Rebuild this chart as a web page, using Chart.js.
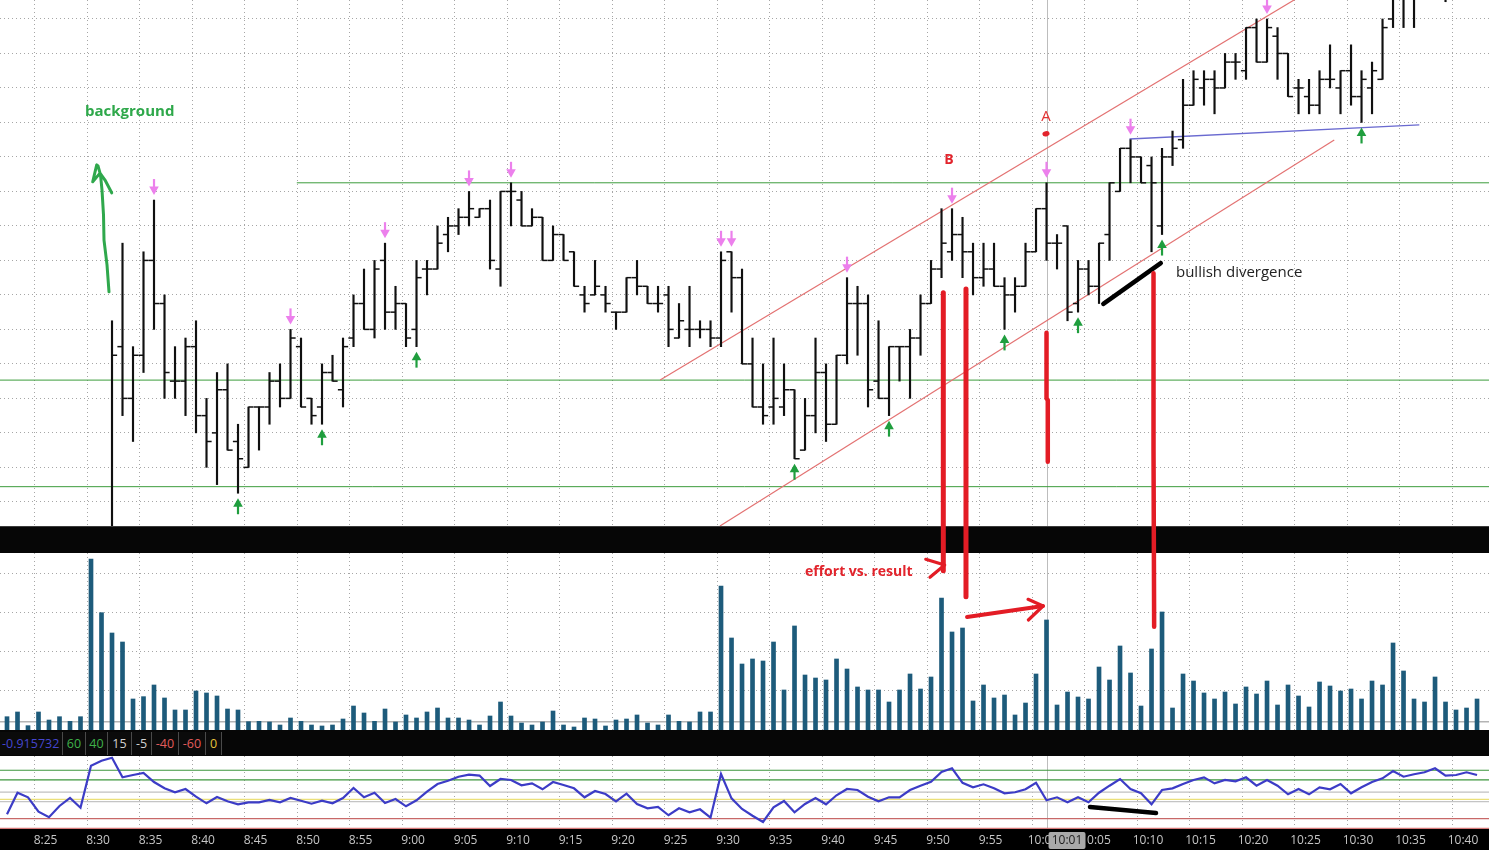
<!DOCTYPE html>
<html><head><meta charset="utf-8">
<script src="https://cdn.jsdelivr.net/npm/chart.js@4.4.1/dist/chart.umd.min.js"></script>
<style>
html,body{margin:0;padding:0;background:#000;width:1489px;height:850px;overflow:hidden;font-family:"Open Sans",sans-serif;}
.pane{position:absolute;left:0;width:1489px;background:#fff;}
#pricePane{top:0;height:526px;}
#band1{position:absolute;left:0;top:526px;width:1489px;height:27px;background:#060606;border-top:1px solid #3c3c3c;box-sizing:border-box;}
#volPane{top:553px;height:177px;}
#band2{position:absolute;left:0;top:730px;width:1489px;height:26px;background:#060606;}
#oscPane{top:756px;height:94px;background:#000;}
#overlay{position:absolute;left:0;top:0;pointer-events:none;z-index:10;}
.lbl{position:absolute;top:2px;height:23px;line-height:23px;font-size:12.5px;text-align:center;border-right:1px solid #4a4a4a;box-sizing:border-box;background:#0b0b0b;}
canvas{display:block;}
</style>
</head>
<body>
<div class="pane" id="pricePane"><canvas id="priceCanvas" width="1489" height="526"></canvas></div>
<div id="band1"></div>
<div class="pane" id="volPane"><canvas id="volCanvas" width="1489" height="177"></canvas></div>
<div id="band2">
  <span class="lbl" style="left:0;width:63px;color:#4646d0;text-align:left;padding-left:2px;">-0.915732</span>
  <span class="lbl" style="left:63px;width:23px;color:#3fb24a;">60</span>
  <span class="lbl" style="left:86px;width:22px;color:#3fb24a;">40</span>
  <span class="lbl" style="left:108px;width:24px;color:#d2d2d2;">15</span>
  <span class="lbl" style="left:132px;width:20px;color:#d2d2d2;">-5</span>
  <span class="lbl" style="left:152px;width:27px;color:#e25c5c;">-40</span>
  <span class="lbl" style="left:179px;width:27px;color:#e25c5c;">-60</span>
  <span class="lbl" style="left:206px;width:16px;color:#e4c23c;">0</span>
</div>
<div class="pane" id="oscPane"><canvas id="oscCanvas" width="1489" height="94"></canvas></div>
<canvas id="overlay" width="1489" height="850"></canvas>
<script>
// ---------------- DATA ----------------
// bars are 1-minute, first bar 8:22; bar index is minutes after 8:30
const FIRST_BAR = -8;
const timeLabels = ['8:25','8:30','8:35','8:40','8:45','8:50','8:55','9:00','9:05','9:10','9:15','9:20','9:25','9:30','9:35','9:40','9:45','9:50','9:55','10:00','10:05','10:10','10:15','10:20','10:25','10:30','10:35','10:40'];
const N = null;
const opens = [N,N,N,N,N,N,N,N,N,N,
2059,2064.5,2063,2064.25,2067,2065.75,2063.5,2063.5,2064.5,2062.5,2062,2063.25,2061.75,2061,2062.75,2062.75,2063.5,2063,2064.5,2063,
2062.75,2063.75,2063.25,2064.75,2065.75,2065,2067,2065.5,2065.75,2065,2066.75,2066.75,2067.75,2068,2068.25,2068.25,2068.5,2066.75,2069,2068.75,
2068,2068.25,2067,2067.75,2067.25,2066,2066,2066,2065.5,2065.5,2066.5,2066.25,2065.75,2066,2064.75,2065,2065,2065,2064.75,2067.25,
2066.5,2064,2062.75,2062.75,2062.75,2063.25,2061.5,2062.5,2063.75,2062.25,2064.25,2065.75,2065.75,2063.5,2063,2064.5,2064.5,2064.75,2065.75,2066.75,
2067.25,2067.75,2067.25,2066.5,2066.75,2066.25,2066,2066.25,2067.25,2068.5,2067.5,2068,2065.75,2066.75,2066.25,2067.75,2069,2070.25,2070,2069.75,
2068,2070,2070.5,2071.5,2072,2072.25,2072,2072.75,2072.5,2073.75,2072.75,2073.5,2073,2072,2071.75,2071.5,2072.25,2072,2072.5,2071.75,
2072,2072.25,2074,2074.75,2074.75,2074.75,2075.25,2075,2074.75,2075.25,2075.5];
const highs = [N,N,N,N,N,N,N,N,N,N,
2065.25,2067.5,2064.5,2067.25,2068.75,2066,2064.5,2064.75,2065.25,2063,2063.75,2064,2062.25,2062.75,2062.75,2063.75,2064,2065,2064.75,2063,
2064,2064.25,2064.75,2066,2066.75,2067,2067.5,2066.25,2065.75,2067,2067,2068,2068.25,2068.5,2069,2068.5,2068.75,2069,2069.25,2069,
2068.5,2068.25,2068,2067.75,2067.25,2066.25,2067,2066.25,2065.5,2066.5,2067,2066.25,2066.25,2066.25,2065.75,2066.25,2065.25,2065.25,2067.25,2067.25,
2066.75,2064.75,2064,2064.75,2064,2063.25,2063,2064.75,2064,2064.25,2066.5,2066.25,2066,2065.25,2064.5,2064.5,2065,2066,2067,2068.5,
2068.5,2068.25,2067.5,2067.5,2067.5,2066.5,2066.5,2067.5,2068.5,2069.25,2067.75,2068,2067,2067,2067.5,2069.25,2070.25,2070.5,2070,2070,
2070.25,2070.75,2072.25,2072.5,2072.5,2072.5,2073,2073,2073.75,2074,2074,2073.75,2073,2072.25,2072.25,2072.5,2073.25,2072.5,2073.25,2072.5,
2072.75,2074,2075,2075.25,2075,2075.5,2075.75,2075.25,2075.5,2075.75,2075.75];
const lows = [N,N,N,N,N,N,N,N,N,N,
2058.5,2062.5,2061.75,2063.75,2065,2063,2063,2062.5,2062,2061,2060.5,2061.5,2060.25,2061,2061.5,2062.25,2062.75,2063,2062.75,2062.25,
2062.25,2063.5,2062.75,2064.5,2065,2064.75,2065,2065,2064.5,2064.5,2066,2066.75,2067.25,2067.75,2068,2068.25,2066.75,2066.25,2068,2068,
2068,2067,2067,2067,2066.25,2065.5,2066,2065.5,2065,2065.5,2066,2065.75,2065.5,2064.5,2064.75,2064.5,2064.75,2064.5,2064.5,2065.5,
2064,2062.75,2062.25,2062.25,2062.5,2061.25,2061.5,2062,2061.75,2062.25,2064,2064.25,2062.75,2063,2062.5,2063.5,2063,2064.25,2065.75,2066.5,
2067,2066.5,2066,2066.25,2066.25,2065,2065.5,2066.25,2067.25,2067,2066.75,2065.25,2065.5,2066,2065.75,2067,2069,2069.25,2069.25,2067.25,
2067.75,2069.75,2070.25,2071.5,2071.5,2071.25,2072,2072.25,2072.25,2072.75,2072.75,2072.25,2071.75,2071.25,2071.25,2071.25,2072,2071.25,2071.5,2071,
2071.25,2072.25,2073.75,2073.75,2073.75,2074.75,2074.75,2074.5,2074.75,2075,2075];
const closes = [N,N,N,N,N,N,N,N,N,N,
2064.25,2063,2064.25,2067,2065.75,2063.75,2063.5,2064.5,2062.5,2061.75,2063.25,2061.5,2061.25,2062.75,2062.75,2063.5,2063,2064.75,2062.75,2062.5,
2063.75,2063.5,2064.5,2065.75,2065,2066.75,2065.5,2065.75,2064.75,2066.5,2066.75,2067.5,2068,2068.25,2068.5,2068.5,2067,2069,2069,2068,
2068.25,2067,2067.75,2067,2066.25,2065.75,2066.25,2065.75,2065.5,2066.5,2066.25,2065.75,2065.75,2065,2065.25,2065,2065,2064.75,2067,2066.5,
2064,2062.75,2062.5,2063,2063.25,2061.25,2062.5,2063.75,2062.25,2064.25,2065.75,2065.75,2063.25,2063,2064.5,2064.5,2064.75,2065.75,2066.75,2067.5,
2067.75,2067.25,2066.5,2066.75,2066.25,2066,2066.25,2067.25,2068.5,2067.5,2067.5,2065.5,2066.75,2066.25,2067.5,2069.25,2070.25,2070,2069.25,2069.25,
2070,2070.25,2071.5,2072.25,2072.25,2072,2072.75,2072.75,2073.75,2072.75,2073.75,2073,2071.75,2072,2071.5,2072.25,2072.25,2072.5,2071.75,2072.25,
2072.5,2073.75,2074.75,2074.75,2074.75,2075.25,2075,2074.75,2075.25,2075.5,2075.25];
const volumes = [341,462,111,462,256,341,222,341,
4385,3008,2487,2256,795,855,1154,821,513,513,1000,949,872,538,513,214,222,205,128,308,222,128,
103,128,282,615,436,222,538,205,385,308,462,564,308,308,256,128,359,718,359,179,
128,205,487,128,77,308,282,103,256,282,385,179,128,385,222,205,462,462,3692,2359,
1692,1821,1769,2256,1026,2667,1410,1333,1282,1821,1564,1103,1026,1026,718,1026,1436,1051,1359,3385,
2513,2615,744,1154,821,897,385,692,1436,2821,641,974,846,795,1615,1282,2154,1462,615,2077,
3026,564,1436,1256,949,795,974,667,1103,923,1256,641,1154,872,590,1231,1128,1000,1051,795,
1256,1154,2231,1513,795,718,1359,718,513,564,795];
const oscValues = [-31,13.6,4,-25.6,-37,-13.8,2.7,-17.4,
69.4,79.8,86,45.4,50.2,54.3,35.7,22.7,14.5,21.3,5.4,-8.3,4.8,-4.1,-10.3,-6.2,-6.2,-1.4,-6.2,2.7,-2.9,-9.1,
-2.9,-8.3,2.7,23.3,4.1,13.6,-7.6,0.6,-14.5,-2.1,15.7,31.6,38.4,46.7,50.8,49,27.5,42,39.9,28.9,
33,20.7,35.7,29.5,22.7,4.1,17.1,11,-4.1,11.6,-9.7,-18.6,-15.9,-33,-18.6,-26.9,-20.7,-38,52.3,2,
-20,-33.9,-46.9,-16.5,-3.5,-26.9,-9.7,2.7,-10.3,8.3,21.3,19.2,5.4,-4.1,4.1,4.1,19.2,28.1,36.4,56.4,
64,34,24.8,31,22.7,12.4,14.5,20.7,34.3,-2.1,4.1,-6.2,4.1,-6.2,13.6,28.1,41.9,21.3,12.4,-10.3,
19.2,22.7,31.6,39.9,45.4,33,39.9,37.2,45.4,28.1,39.9,28.1,10.3,21.3,10.3,24.8,20.7,31.6,12.4,24.8,
35.7,43.4,58.5,46.7,51.7,55.8,64,48.8,50.2,55.8,50.2];
const oscLevels = [60, 40, 15, 0, -5, -40, -60];
const volAvgLevel = 210;
const swingHighBars = [6,19,28,36,40,60,61,72,82,91,99,112];
const swingLowBars = [14,22,31,67,76,87,94,102,121];
const cursorBar = 91;

// ---------------- HELPERS ----------------
const X_MIN = -8.667, X_MAX = 133.14;
const GRID_SHIFT = -0.38;
const toMin = s => { const p = s.split(':').map(Number); return p[0]*60 + p[1]; };
const tickBars = timeLabels.map(s => toMin(s) - 510);
const barX = k => k + FIRST_BAR;
const fmtTime = b => { const m = 510 + b; return Math.floor(m/60) + ':' + String(m%60).padStart(2,'0'); };
const FONT = '"Open Sans", "Noto Sans", sans-serif';

function xAxis(showLabels, fixedHeight) {
  return {
    type: 'linear', min: X_MIN, max: X_MAX, offset: false, display: true,
    afterBuildTicks: s => { s.ticks = tickBars.map(v => ({ value: v + GRID_SHIFT })); },
    afterFit: s => { s.height = fixedHeight; s.paddingLeft = 0; s.paddingRight = 0; },
    grid: { color: '#a6a6a6', lineWidth: 1, drawTicks: false, offset: false },
    border: { display: false, dash: [1, 3] },
    ticks: {
      display: showLabels, autoSkip: false, maxRotation: 0, minRotation: 0,
      labelOffset: 11, padding: 4, color: '#c6c6c6',
      font: { family: FONT, size: 12 },
      callback: (v, i) => timeLabels[i]
    }
  };
}
function yAxis(min, max, tickVals, showGrid) {
  return {
    type: 'linear', min: min, max: max, display: showGrid, position: 'left',
    afterBuildTicks: s => { s.ticks = tickVals.map(v => ({ value: v })); },
    afterFit: s => { s.width = 0; s.paddingTop = 0; s.paddingBottom = 0; },
    grid: { color: '#a6a6a6', lineWidth: 1, drawTicks: false },
    border: { display: false, dash: [1, 3] },
    ticks: { display: false }
  };
}
function seg(points, color, width, order) {
  return { type: 'line', data: points.map(p => ({ x: p[0], y: p[1] })), borderColor: color,
    borderWidth: width, pointRadius: 0, fill: false, tension: 0, order: order };
}
function cursorLine(chart) {
  const ctx = chart.ctx, a = chart.chartArea, x = chart.scales.x.getPixelForValue(cursorBar);
  ctx.save(); ctx.strokeStyle = '#bdbdbd'; ctx.lineWidth = 1;
  ctx.beginPath(); ctx.moveTo(Math.round(x) + 0.5, a.top); ctx.lineTo(Math.round(x) + 0.5, a.bottom); ctx.stroke();
  ctx.restore();
}
function poly(ctx, pts, color, width) {
  ctx.save(); ctx.strokeStyle = color; ctx.lineWidth = width; ctx.lineCap = 'round'; ctx.lineJoin = 'round';
  ctx.beginPath(); pts.forEach((p, i) => i ? ctx.lineTo(p[0], p[1]) : ctx.moveTo(p[0], p[1])); ctx.stroke(); ctx.restore();
}
function arrow(ctx, x, tip, dir, color) {
  // dir = +1 pointing down, -1 pointing up
  ctx.save(); ctx.fillStyle = color; ctx.strokeStyle = color; ctx.lineWidth = 2.2;
  ctx.beginPath(); ctx.moveTo(x, tip - dir * 16); ctx.lineTo(x, tip - dir * 6); ctx.stroke();
  ctx.beginPath(); ctx.moveTo(x - 4.8, tip - dir * 8.5); ctx.lineTo(x + 4.8, tip - dir * 8.5); ctx.lineTo(x, tip); ctx.closePath(); ctx.fill();
  ctx.restore();
}

const common = {
  responsive: false, animation: false, events: [],
  layout: { padding: 0, autoPadding: false },
  plugins: { legend: { display: false }, tooltip: { enabled: false } }
};

// ---------------- PRICE ----------------
const hlData = [], openData = [], closeData = [];
highs.forEach((h, k) => {
  if (h == null) return;
  hlData.push({ x: barX(k), y: [lows[k], h] });
  openData.push({ x: barX(k) - 0.24, y: opens[k] });
  closeData.push({ x: barX(k) + 0.24, y: closes[k] });
});
const handArrow = [[1.714,2066.09],[1.524,2066.87],[1.238,2067.59],[1.19,2068.32],[1.048,2069.04],[0.905,2069.48],[0.667,2069.74],[0.543,2069.77],[0.162,2069.28],[0.857,2069.53],[1.333,2069.33],[1.971,2068.96]];

const pricePlugin = {
  id: 'priceDecor',
  beforeDatasetsDraw(chart) { cursorLine(chart); },
  afterDatasetsDraw(chart) {
    const ctx = chart.ctx, X = v => chart.scales.x.getPixelForValue(v), Y = v => chart.scales.y.getPixelForValue(v);
    swingHighBars.forEach(b => arrow(ctx, X(b), Y(highs[b - FIRST_BAR]) - 5, 1, '#ec80ec'));
    swingLowBars.forEach(b => arrow(ctx, X(b), Y(lows[b - FIRST_BAR]) + 5, -1, '#1f9e3e'));
    poly(ctx, handArrow.map(p => [X(p[0]), Y(p[1])]), '#2fa84c', 3);
    poly(ctx, [[X(96.41), Y(2065.74)], [X(101.88), Y(2066.92)]], '#000', 4.5);
    ctx.save();
    ctx.textBaseline = 'middle';
    ctx.fillStyle = '#2ea84a'; ctx.font = 'bold 15px ' + FONT; ctx.textAlign = 'left';
    ctx.fillText('background', X(-0.57), Y(2071.30));
    ctx.fillStyle = '#222'; ctx.font = '15px ' + FONT;
    ctx.fillText('bullish divergence', X(103.33), Y(2066.64));
    ctx.textAlign = 'center'; ctx.fillStyle = '#e2242c'; ctx.font = 'bold 14px ' + FONT;
    ctx.fillText('B', X(81.71), Y(2069.91));
    ctx.font = '15px ' + FONT; ctx.fillStyle = '#e23434';
    ctx.fillText('A', X(90.95), Y(2071.16));
    ctx.beginPath(); ctx.fillStyle = '#e2242c';
    ctx.ellipse(X(90.95), Y(2070.67), 3.6, 2.6, -0.2, 0, Math.PI * 2); ctx.fill();
    ctx.restore();
  }
};

const priceChart = new Chart(document.getElementById('priceCanvas'), {
  type: 'bar',
  data: { datasets: [
    { type: 'bar', data: hlData, backgroundColor: '#101010', barThickness: 1.5, borderWidth: 0, order: 1 },
    { type: 'scatter', data: openData, pointStyle: 'line', pointRadius: 2.6, borderColor: '#101010', borderWidth: 1.5, order: 1 },
    { type: 'scatter', data: closeData, pointStyle: 'line', pointRadius: 2.6, borderColor: '#101010', borderWidth: 1.5, order: 1 },
    seg([[X_MIN, 2063.53], [X_MAX, 2063.53]], '#3c9c3c', 1, 10),
    seg([[X_MIN, 2060.44], [X_MAX, 2060.44]], '#3c9c3c', 1, 10),
    seg([[19.6, 2069.25], [X_MAX, 2069.25]], '#3c9c3c', 1, 10),
    seg([[54.2, 2063.53], [116, 2074.81]], '#e37272', 1.2, 9),
    seg([[59.9, 2059.30], [118.4, 2070.49]], '#e37272', 1.2, 9),
    seg([[98.9, 2070.52], [126.5, 2070.93]], '#6a6ad0', 1.3, 9)
  ]},
  options: Object.assign({}, common, {
    scales: {
      x: xAxis(false, 0),
      y: yAxis(2059.30, 2074.55, [2060,2061,2062,2063,2064,2065,2066,2067,2068,2069,2070,2071,2072,2073,2074], true)
    }
  }),
  plugins: [pricePlugin]
});

// ---------------- VOLUME ----------------
const volChart = new Chart(document.getElementById('volCanvas'), {
  type: 'bar',
  data: { datasets: [
    { type: 'bar', data: volumes.map((v, k) => ({ x: barX(k), y: v })), backgroundColor: '#1d5b7b', barThickness: 4, borderWidth: 0, order: 1 },
    seg([[X_MIN, volAvgLevel], [X_MAX, volAvgLevel]], '#b4b4b4', 1.5, 10)
  ]},
  options: Object.assign({}, common, {
    scales: { x: xAxis(false, 0), y: yAxis(0, 4538, [1000, 2000, 3000, 4000], true) }
  }),
  plugins: [{ id: 'volDecor', beforeDatasetsDraw(chart) { cursorLine(chart); } }]
});

// ---------------- OSCILLATOR ----------------
const levelColors = { '60': '#3c963c', '40': '#3c963c', '15': '#c0c0c0', '0': '#ebe07a', '-5': '#c4c4c4', '-40': '#c86868', '-60': '#d67a7a' };
const oscPlugin = {
  id: 'oscDecor',
  beforeDraw(chart) {
    const ctx = chart.ctx, a = chart.chartArea;
    ctx.save(); ctx.fillStyle = '#000'; ctx.fillRect(0, 0, chart.width, chart.height);
    ctx.fillStyle = '#fff'; ctx.fillRect(a.left, a.top, a.right - a.left, a.bottom - a.top); ctx.restore();
  },
  beforeDatasetsDraw(chart) { cursorLine(chart); },
  afterDatasetsDraw(chart) {
    const ctx = chart.ctx, X = v => chart.scales.x.getPixelForValue(v), Y = v => chart.scales.y.getPixelForValue(v);
    poly(ctx, [[X(95.14), Y(-15.9)], [X(101.43), Y(-28.3)]], '#000', 4.5);
  },
  afterDraw(chart) {
    const ctx = chart.ctx, a = chart.chartArea, x = chart.scales.x.getPixelForValue(cursorBar);
    ctx.save();
    ctx.fillStyle = '#a9a9a9';
    ctx.beginPath(); ctx.roundRect(x + 2, a.bottom + 3, 37, 17, 2); ctx.fill();
    ctx.fillStyle = '#1c1c1c'; ctx.font = '12px ' + FONT; ctx.textAlign = 'center'; ctx.textBaseline = 'middle';
    ctx.fillText(fmtTime(cursorBar), x + 20.5, a.bottom + 12);
    ctx.restore();
  }
};
const oscChart = new Chart(document.getElementById('oscCanvas'), {
  type: 'line',
  data: { datasets: [
    ...oscLevels.map(l => seg([[X_MIN, l], [X_MAX, l]], levelColors[String(l)], 1.2, 10)),
    { type: 'line', data: oscValues.map((v, k) => ({ x: barX(k), y: v })), borderColor: '#3c3cc6', borderWidth: 2.2, pointRadius: 0, tension: 0, order: 1 }
  ]},
  options: Object.assign({}, common, {
    scales: {
      x: xAxis(true, 21),
      y: { type: 'linear', min: -61.4, max: 89.5, display: false }
    }
  }),
  plugins: [oscPlugin]
});

// ---------------- CROSS-PANE ANNOTATIONS ----------------
(function () {
  const ov = document.getElementById('overlay'), ctx = ov.getContext('2d');
  const top = c => c.canvas.getBoundingClientRect().top;
  const P = (c, xv, yv) => [c.scales.x.getPixelForValue(xv), top(c) + c.scales.y.getPixelForValue(yv)];
  const red = '#e31c25';
  poly(ctx, [P(priceChart, 81.17, 2066.06), P(volChart, 81.17, 4085)], red, 5);
  poly(ctx, [P(priceChart, 83.33, 2066.17), P(volChart, 83.33, 3418)], red, 5);
  poly(ctx, [P(priceChart, 91.0, 2064.90), P(priceChart, 91.0, 2063.0), P(priceChart, 91.12, 2062.95), P(priceChart, 91.12, 2061.16)], red, 4.5);
  poly(ctx, [P(priceChart, 101.19, 2066.63), P(priceChart, 101.19, 2061.5), P(volChart, 101.25, 2649)], red, 4.5);
  poly(ctx, [P(volChart, 79.5, 4377), P(volChart, 81.3, 4231), P(volChart, 79.9, 3915)], red, 3.2);
  poly(ctx, [P(volChart, 83.43, 2897), P(volChart, 90.67, 3180)], red, 4);
  poly(ctx, [P(volChart, 89.24, 3351), P(volChart, 90.67, 3180), P(volChart, 89.27, 2821)], red, 3.2);
  const t = P(volChart, 68.0, 4051);
  ctx.save(); ctx.fillStyle = '#e2242c'; ctx.font = 'bold 14px ' + FONT; ctx.textBaseline = 'middle';
  ctx.fillText('effort vs. result', t[0], t[1]); ctx.restore();
})();
</script>
</body></html>
